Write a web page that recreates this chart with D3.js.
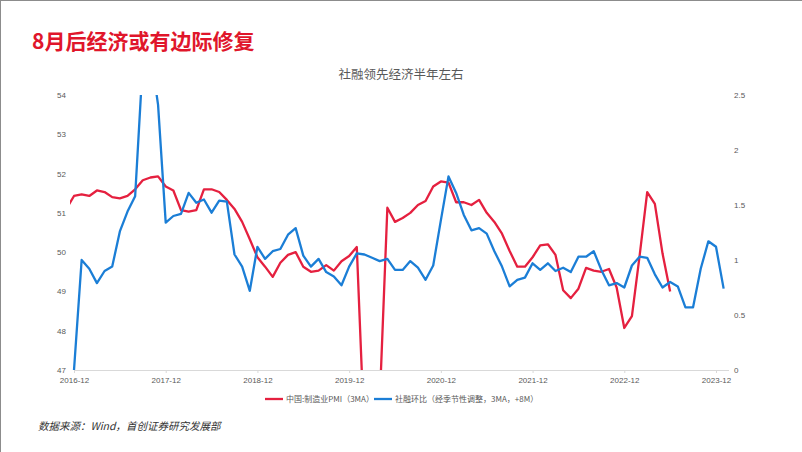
<!DOCTYPE html>
<html><head><meta charset="utf-8">
<script src="https://cdn.jsdelivr.net/npm/d3@7"></script>
<style>body{margin:0;background:#fff}svg{display:block}</style>
</head><body><svg id="c" width="802" height="452"></svg>
<script>
// ---- data ----
// months counted from 2016-12 (index 0); PMI series starts one month earlier (2016-11)
const pmiStartIndex = -1;
const pmi3ma = [51.10,
  51.43,51.47,51.43,51.57,51.53,51.40,51.37,51.43,51.60,51.83,51.90,51.93,
  51.67,51.57,51.07,51.03,51.07,51.60,51.60,51.53,51.33,51.10,50.77,50.33,
  49.87,49.63,49.37,49.73,49.93,50.00,49.63,49.50,49.53,49.67,49.53,49.77,
  49.90,50.13,45.30,45.90,46.17,51.13,50.77,50.87,51.00,51.20,51.30,51.67,
  51.80,51.77,51.27,51.27,51.20,51.33,51.00,50.77,50.47,50.03,49.63,49.63,
  49.87,50.17,50.20,49.93,49.03,48.83,49.07,49.60,49.53,49.50,49.57,49.10,
  48.07,48.37,49.90,51.53,51.23,49.97,49.00];
const tsfStartIndex = 0;
const tsfMoM = [0.00,
  1.00,0.92,0.79,0.90,0.94,1.26,1.44,1.58,2.80,2.90,2.41,1.34,
  1.40,1.42,1.61,1.52,1.55,1.43,1.54,1.53,1.05,0.94,0.72,1.12,
  1.01,1.08,1.10,1.23,1.29,1.04,0.94,1.01,0.89,0.85,0.77,0.94,
  1.06,1.05,1.02,0.99,1.01,0.91,0.91,0.99,0.93,0.82,0.95,1.36,
  1.76,1.61,1.41,1.27,1.29,1.24,1.08,0.94,0.76,0.82,0.84,0.97,
  0.91,0.97,0.90,0.93,0.89,1.03,1.03,1.08,0.91,0.77,0.79,0.75,
  0.95,1.03,1.02,0.87,0.75,0.80,0.76,0.57,0.57,0.92,1.17,1.12,
  0.74];
const xTickIndex = [0,12,24,36,48,60,72,84];
const xTickLabels = ["2016-12","2017-12","2018-12","2019-12","2020-12","2021-12","2022-12","2023-12"];
const leftTicks = [47,48,49,50,51,52,53,54];
const rightTicks = [0,0.5,1,1.5,2,2.5];
const seriesNames = ["中国:制造业PMI（3MA）","社融环比（经季节性调整，3MA，+8M）"];
const pageTitle = "8月后经济或有边际修复";
const chartTitle = "社融领先经济半年左右";
const sourceText = "数据来源：Wind，首创证券研究发展部";

// ---- layout ----
const W = 802, H = 452;
const plot = {left:70, right:729, top:95, bottom:370};
const RED = "#E5203F", BLUE = "#1B7ED6", GREY = "#595959";
const svg = d3.select("#c");

const x = d3.scaleLinear().domain([0,84]).range([74,716]);
const yL = d3.scaleLinear().domain([47,54]).range([plot.bottom, plot.top]);
const yR = d3.scaleLinear().domain([0,2.5]).range([plot.bottom, plot.top]);

// page border (left/top)
svg.append("line").attr("x1",0.5).attr("x2",0.5).attr("y1",0).attr("y2",H).attr("stroke","#8c8c8c");
svg.append("line").attr("x1",0).attr("x2",W).attr("y1",0.5).attr("y2",0.5).attr("stroke","#8c8c8c");

// titles
svg.append("text").attr("x",32).attr("y",49).text(pageTitle)
  .attr("font-family","'Noto Sans CJK SC',sans-serif").attr("font-weight","bold")
  .attr("font-size",21).attr("fill","#E0162B");
svg.append("text").attr("x",401).attr("y",79).attr("text-anchor","middle").text(chartTitle)
  .attr("font-family","'Noto Sans CJK SC',sans-serif").attr("font-size",12.5).attr("fill",GREY);

// axes
const fontTick = "'Liberation Sans',Arial,sans-serif";
const gL = svg.append("g").attr("transform",`translate(${plot.left},0)`)
  .call(d3.axisLeft(yL).tickValues(leftTicks).tickSize(0).tickPadding(4).tickFormat(d3.format("d")));
const gR = svg.append("g").attr("transform",`translate(${plot.right},0)`)
  .call(d3.axisRight(yR).tickValues(rightTicks).tickSize(0).tickPadding(5).tickFormat(d=>String(d)));
const gB = svg.append("g").attr("transform",`translate(0,${plot.bottom})`)
  .call(d3.axisBottom(x).tickValues(xTickIndex).tickSize(3).tickPadding(4).tickFormat((d,i)=>xTickLabels[i]));
[gL,gR,gB].forEach(g=>{
  g.select(".domain").remove();
  g.selectAll("text").attr("font-family",fontTick).attr("font-size",8).attr("fill",GREY);
  g.selectAll("line").attr("stroke","#d9d9d9");
});
svg.append("line").attr("x1",x(0)).attr("x2",plot.right).attr("y1",plot.bottom+0.5).attr("y2",plot.bottom+0.5)
  .attr("stroke","#d9d9d9");

// clip
svg.append("clipPath").attr("id","clip").append("rect")
  .attr("x",plot.left).attr("y",plot.top).attr("width",plot.right-plot.left).attr("height",plot.bottom-plot.top);

const gLines = svg.append("g").attr("clip-path","url(#clip)");
const lineL = d3.line().x(d=>x(d.i)).y(d=>yL(d.v));
const lineR = d3.line().x(d=>x(d.i)).y(d=>yR(d.v));
gLines.append("path").datum(pmi3ma.map((v,k)=>({i:k+pmiStartIndex,v})))
  .attr("d",lineL).attr("fill","none").attr("stroke",RED).attr("stroke-width",2.3).attr("stroke-linejoin","round");
gLines.append("path").datum(tsfMoM.map((v,k)=>({i:k+tsfStartIndex,v})))
  .attr("d",lineR).attr("fill","none").attr("stroke",BLUE).attr("stroke-width",2.3).attr("stroke-linejoin","round");

// legend
const legY = 399;
const leg = [{c:RED,x:265,t:seriesNames[0]},{c:BLUE,x:374,t:seriesNames[1]}];
leg.forEach(l=>{
  svg.append("line").attr("x1",l.x).attr("x2",l.x+18).attr("y1",legY).attr("y2",legY)
    .attr("stroke",l.c).attr("stroke-width",2.3);
  svg.append("text").attr("x",l.x+21).attr("y",legY+3).text(l.t)
    .attr("font-family","'Noto Sans CJK SC',sans-serif").attr("font-size",8).attr("fill",GREY);
});

// source
svg.append("text").attr("x",38).attr("y",429.5).text(sourceText)
  .attr("font-family","'Noto Sans CJK SC',sans-serif").attr("font-size",10.5)
  .attr("font-style","italic").attr("fill","#333");
</script></body></html>
